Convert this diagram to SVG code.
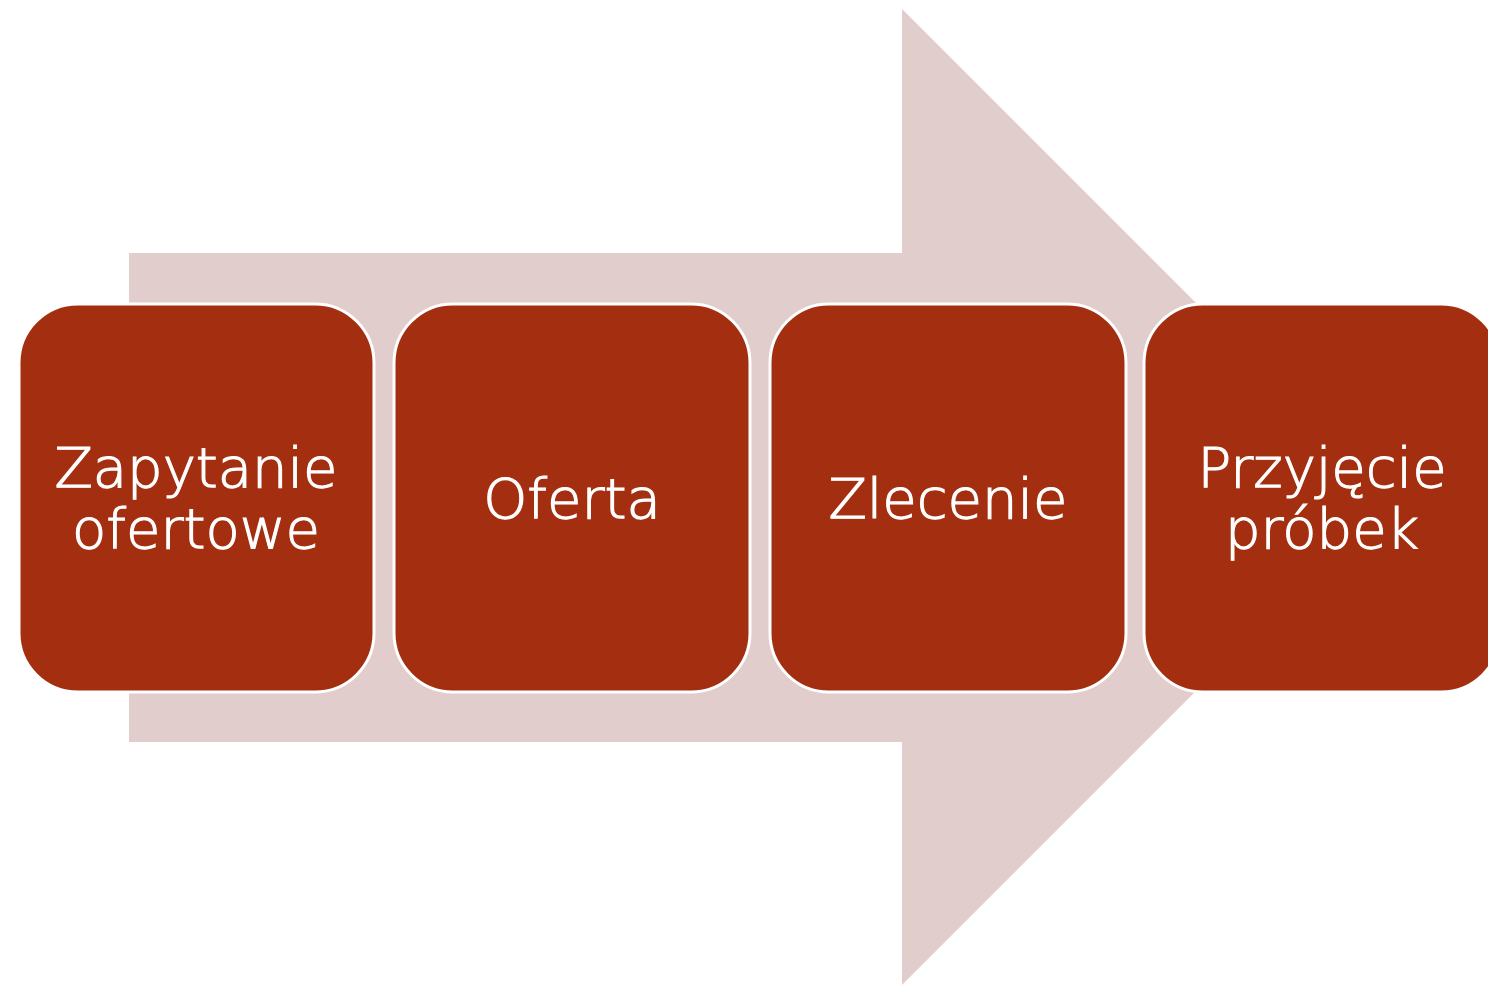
<svg xmlns="http://www.w3.org/2000/svg" width="1488" height="985" viewBox="0 0 1488 985">
<style>
.box{fill:#A42F10;stroke:#FFFFFF;stroke-width:3}
.lbl{fill:#FFFFFF;stroke:#FFFFFF;stroke-width:1.2;font-family:"DejaVu Sans","Liberation Sans",sans-serif;font-size:56px;font-weight:200;text-anchor:middle}
</style>
<rect width="1488" height="985" fill="#FFFFFF"/>
<g id="arrow">
<polygon points="129,253 902,253 902,9 1390,497 902,985 902,742 129,742" fill="#E0CDCC"/>
</g>
<g id="connectors"></g>
<g id="node1">
<rect class="box" x="19" y="304" width="355" height="388" rx="59" ry="59"/>
<text class="lbl" x="196" y="487">Zapytanie</text>
<text class="lbl" x="196" y="548">ofertowe</text>
</g>
<g id="node2">
<rect class="box" x="394" y="304" width="356" height="388" rx="59" ry="59"/>
<text class="lbl" x="572" y="518">Oferta</text>
</g>
<g id="node3">
<rect class="box" x="770" y="304" width="356" height="388" rx="59" ry="59"/>
<text class="lbl" x="948" y="518">Zlecenie</text>
</g>
<g id="node4">
<rect class="box" x="1144" y="304" width="356" height="388" rx="59" ry="59"/>
<text class="lbl" x="1322" y="487">Przyjęcie</text>
<text class="lbl" x="1322" y="548">próbek</text>
</g>
</svg>
